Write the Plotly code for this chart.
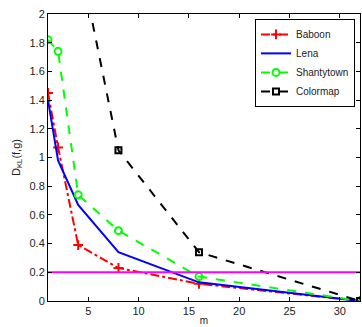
import plotly.graph_objects as go

m_vals = [1, 2, 4, 8, 16, 32]
baboon = [1.45, 1.07, 0.39, 0.23, 0.12, 0.0]
lena = [1.40, 0.98, 0.67, 0.34, 0.13, 0.0]
shantytown = [1.82, 1.74, 0.74, 0.49, 0.17, 0.0]
colormap_m = [4, 8, 16, 32]
colormap = [2.43, 1.05, 0.34, 0.0]
threshold = 0.2

x_ticks = [5, 10, 15, 20, 25, 30]
y_ticks = [0, 0.2, 0.4, 0.6, 0.8, 1, 1.2, 1.4, 1.6, 1.8, 2]
y_ticktext = ["0", "0.2", "0.4", "0.6", "0.8", "1", "1.2", "1.4", "1.6", "1.8", "2"]

fig = go.Figure()
fig.add_trace(go.Scatter(x=m_vals, y=baboon, name="Baboon", mode="lines+markers",
                         line=dict(color="#ff0000", width=2, dash="dashdot"),
                         marker=dict(symbol="cross-thin-open", size=7,
                                     line=dict(color="#ff0000", width=2))))
fig.add_trace(go.Scatter(x=m_vals, y=lena, name="Lena", mode="lines",
                         line=dict(color="#0000ff", width=2)))
fig.add_trace(go.Scatter(x=m_vals, y=shantytown, name="Shantytown", mode="lines+markers",
                         line=dict(color="#00ff00", width=2, dash="dash"),
                         marker=dict(symbol="circle-open", size=7,
                                     line=dict(color="#00ff00", width=2))))
fig.add_trace(go.Scatter(x=colormap_m, y=colormap, name="Colormap", mode="lines+markers",
                         line=dict(color="#000000", width=2, dash="dash"),
                         marker=dict(symbol="square-open", size=6,
                                     line=dict(color="#000000", width=2))))
fig.add_trace(go.Scatter(x=[1, 32], y=[threshold, threshold], mode="lines",
                         line=dict(color="#ff00ff", width=2), showlegend=False))

axis_common = dict(showline=True, linecolor="black", linewidth=1, mirror="ticks",
                   ticks="inside", ticklen=4, tickcolor="black", showgrid=False,
                   zeroline=False, automargin=False,
                   tickfont=dict(family="Liberation Sans, Arial", size=11, color="#222"))

fig.update_layout(
    width=362, height=327,
    margin=dict(l=48, r=2, t=14, b=26),
    plot_bgcolor="white", paper_bgcolor="white",
    font=dict(family="Liberation Sans, Arial", size=11, color="#222"),
    xaxis=dict(range=[1, 32], tickvals=x_ticks,
               title=dict(text="m", standoff=0, font=dict(size=10)), **axis_common),
    yaxis=dict(range=[0, 2], tickvals=y_ticks, ticktext=y_ticktext,
               title=dict(text="D<sub>KL</sub>(f,g)", standoff=6, font=dict(size=11)), **axis_common),
    legend=dict(x=0.984, y=0.983, xanchor="right", yanchor="top",
                bordercolor="black", borderwidth=1, bgcolor="white",
                font=dict(size=10), tracegroupgap=0, itemwidth=30),
    showlegend=True,
)

fig.write_html("out.html", config={"displayModeBar": False},
               post_script="document.body.style.margin='0';")
